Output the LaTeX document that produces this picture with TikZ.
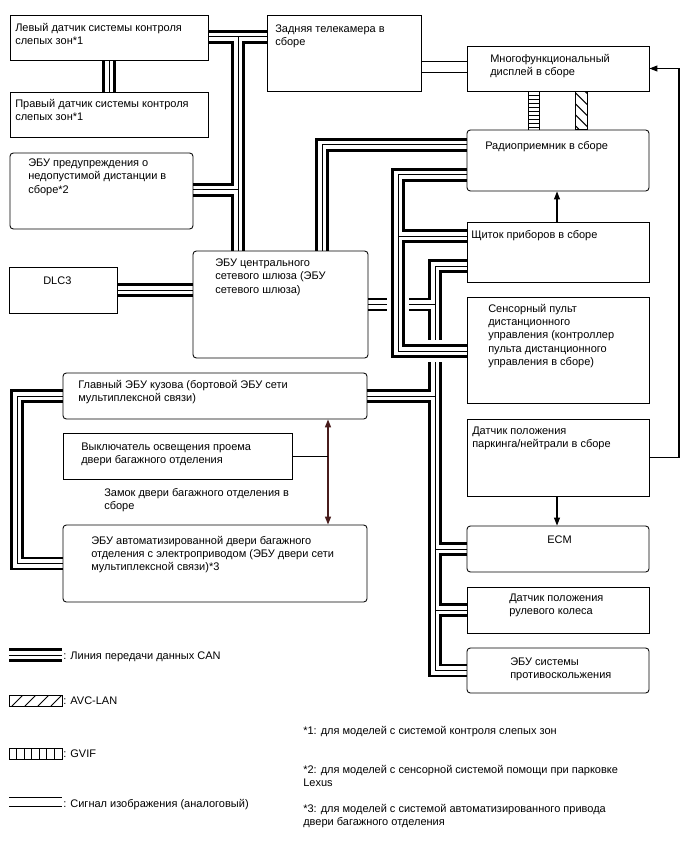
\documentclass[tikz,border=0pt]{standalone}
\usepackage{fontspec}
\setmainfont{Liberation Sans}
\usetikzlibrary{arrows.meta,fit,calc,backgrounds}
\definecolor{lockred}{RGB}{72,28,28}

\begin{document}
\begin{tikzpicture}[
  x=0.75pt, y=-0.75pt, font=\fontsize{8.25}{10}\selectfont,
  box/.style={draw, line width=0.65pt, inner sep=0pt, fit={#1}},
  rbox/.style={box={#1}, rounded corners=2.5pt},
  txt/.style={anchor=north west, align=left, inner sep=0pt, execute at begin node=\strut},
  canblack/.style={line width=10pt, line join=miter},
  canwhite/.style={line width=6.4pt, white, line join=miter},
  canthin/.style={line width=0.75pt, line join=miter},
  canhalo/.style={line width=16pt, white, line join=miter},
  gvblack/.style={line width=9.6pt},
  gvwhite/.style={line width=7.8pt, white},
  gvrung/.style={line width=7.8pt, dash pattern=on 0.7pt off 2.3pt},
  thinl/.style={line width=0.75pt},
  ar/.style={line width=0.8pt, -{Triangle[length=6pt,width=4.5pt]}},
  lockar/.style={line width=1pt, lockred,
    {Triangle[length=6pt,width=4.5pt]}-{Triangle[length=6pt,width=4.5pt]}}]

\useasboundingbox (0,0) rectangle (688,852);

% left column
\node[box={(10,15) (208,60)}]    (lbsm)  {};
\node[box={(10,92) (208,137)}]   (rbsm)  {};
\node[rbox={(10,153) (193,229)}] (clr)   {};
\node[box={(9,267) (117,313)}]   (dlc)   {};
\node[rbox={(193,251) (368,358)}] (gw)   {};
\node[box={(267,15) (421,91)}]   (cam)   {};
\node[rbox={(63,373) (367,419)}] (body)  {};
\node[box={(63,433) (292,479)}]  (sw)    {};
\node[rbox={(63,525) (367,602)}] (door)  {};

% right column
\node[box={(467,46) (649,91)}]    (mfd)   {};
\node[rbox={(467,130) (649,191)}] (radio) {};
\node[box={(467,222) (649,282)}]  (dash)  {};
\node[box={(467,297) (649,403)}]  (touch) {};
\node[box={(467,419) (649,496)}]  (park)  {};
\node[rbox={(467,526) (649,572)}] (ecm)   {};
\node[box={(467,587) (649,633)}]  (steer) {};
\node[rbox={(467,648) (649,693)}] (abs)   {};

% texts
\node[txt] (lbsmT)  at (15,22.7)  {Левый датчик системы контроля\\слепых зон*1};
\node[txt] (rbsmT)  at (15,98.7)  {Правый датчик системы контроля\\слепых зон*1};
\node[txt] (clrT)   at (28,158.7) {ЭБУ предупреждения о\\недопустимой дистанции в\\сборе*2};
\node[txt] (camT)   at (275,24.7) {Задняя телекамера в\\сборе};
\node[txt] (mfdT)   at (490,53.7) {Многофункциональный\\дисплей в сборе};
\node[txt] (radioT) at (485,139.7) {Радиоприемник в сборе};
\node[txt] (dashT)  at (471,228.7) {Щиток приборов в сборе};
\node[txt] (touchT) at (488,303.7) {Сенсорный пульт\\дистанционного\\управления (контроллер\\пульта дистанционного\\управления в сборе)};
\node[txt] (parkT)  at (472,426.7) {Датчик положения\\паркинга/нейтрали в сборе};
\node[txt] (ecmT)   at (547,533.7) {ECM};
\node[txt] (steerT) at (509,593.7) {Датчик положения\\рулевого колеса};
\node[txt] (absT)   at (510,657.7) {ЭБУ системы\\противоскольжения};
\node[txt] (dlcT)   at (43,274.7)  {DLC3};
\node[txt] (gwT)    at (215,258.7) {ЭБУ центрального\\сетевого шлюза (ЭБУ\\сетевого шлюза)};
\node[txt] (bodyT)  at (78,379.7)  {Главный ЭБУ кузова (бортовой ЭБУ сети\\мультиплексной связи)};
\node[txt] (swT)    at (81,442.7)  {Выключатель освещения проема\\двери багажного отделения};
\node[txt] (lockT)  at (104,487.7) {Замок двери багажного отделения в\\сборе};
\node[txt] (doorT)  at (91,535.7)  {ЭБУ автоматизированной двери багажного\\отделения с электроприводом (ЭБУ двери сети\\мультиплексной связи)*3};

% bus points
\coordinate (ja) at (238,37);
\coordinate (jg) at (238,190);
\coordinate (jb) at (322,145);
\coordinate (jc) at (398,175);
\coordinate (jm) at (398,236);
\coordinate (jl) at (398,351);
\coordinate (jd) at (435,266);
\coordinate (je) at (17,0);
\coordinate (gv) at (534,0);
\coordinate (av) at (581,0);
\coordinate (ar) at (557,0);
\coordinate (rt) at (679,0);
\coordinate (lk) at (328,0);
\coordinate (va) at (440,62);
\coordinate (vb) at (440,73);

\begin{scope}[on background layer]
% CAN lines
\foreach \lay in {canblack,canwhite,canthin}{
  \draw[\lay] (lbsm.east |- ja) -- (cam.west |- ja);
  \draw[\lay] (ja) -- (ja |- gw.north);
  \draw[\lay] (clr.east |- jg) -- (jg);
  \draw[\lay] (lbsm.south) -- (rbsm.north);
  \draw[\lay] (radio.west |- jb) -- (jb) -- (jb |- gw.north);
  \draw[\lay] (dlc.east) -- (dlc.east -| gw.west);
  \draw[\lay] (dash.west |- jd) -- (jd) -- (jd |- abs.west) -- (abs.west);
  \draw[\lay] (gw.east) -- (gw.east -| jd);
  \draw[\lay] (body.east) -- (body.east -| jd);
  \draw[\lay] (ecm.west -| jd) -- (ecm.west);
  \draw[\lay] (steer.west -| jd) -- (steer.west);
  \draw[\lay] (body.west) -- (body.west -| je) |- (door.west);
}
% second bus crosses over the first
\foreach \lay in {canhalo,canblack,canwhite,canthin}{
  \draw[\lay] (radio.west |- jc) -- (jc) -- (jl) -- (touch.west |- jl);
  \draw[\lay] (dash.west |- jm) -- (jm);
}

% video signal
\draw[thinl] (cam.east |- va) -- (mfd.west |- va);
\draw[thinl] (cam.east |- vb) -- (mfd.west |- vb);

% GVIF
\foreach \lay in {gvblack,gvwhite,gvrung}
  \draw[\lay] (mfd.south -| gv) -- (radio.north -| gv);

% AVC-LAN
\draw[thinl] ($(mfd.south -| av)+(-6,0)$) rectangle ($(radio.north -| av)+(6,0)$);
\begin{scope}
  \clip ($(mfd.south -| av)+(-6,0)$) rectangle ($(radio.north -| av)+(6,0)$);
  \foreach \k in {0,...,4}
    \draw[thinl] ($(mfd.south -| av)+(-6,-10+11*\k)$) -- ++(12,12);
\end{scope}

% signal arrows
\draw[ar] (dash.north -| ar) -- (radio.south -| ar);
\draw[ar] (park.south -| ar) -- (ecm.north -| ar);
\draw[ar] (park.east) -- (park.east -| rt) |- (mfd.east);
\draw[lockar] (body.south -| lk) -- (door.north -| lk);
\draw[thinl] (sw.east) -- (sw.east -| lk);
\end{scope}

% legend
\coordinate (lg1) at (9,655);
\coordinate (lg1e) at (62,655);
\foreach \lay in {canblack,canwhite,canthin}
  \draw[\lay] (lg1) -- (lg1e);
\node[txt] (lg1T) at (63,649.7) {: Линия передачи данных CAN};

\draw[thinl] (9,695) rectangle (62,706);
\begin{scope}
  \clip (9,695) rectangle (62,706);
  \foreach \k in {0,...,3}
    \draw[thinl] (12+13*\k,706) -- ++(11,-11);
\end{scope}
\node[txt] (lg2T) at (63,694.7) {: AVC-LAN};

\draw[thinl] (9,748) rectangle (62,759);
\foreach \k in {1,...,6}
  \draw[thinl] (9+7.57*\k,748) -- ++(0,11);
\node[txt] (lg3T) at (63,747.7) {: GVIF};

\draw[thinl] (9,797) -- (62,797);
\draw[thinl] (9,806) -- (62,806);
\node[txt] (lg4T) at (63,797.7) {: Сигнал изображения (аналоговый)};

% footnotes
\node[txt] (fn1) at (303,724.7) {*1: для моделей с системой контроля слепых зон};
\node[txt] (fn2) at (303,764.7) {*2: для моделей с сенсорной системой помощи при парковке\\Lexus};
\node[txt] (fn3) at (303,803.7) {*3: для моделей с системой автоматизированного привода\\двери багажного отделения};
\end{tikzpicture}
\end{document}
